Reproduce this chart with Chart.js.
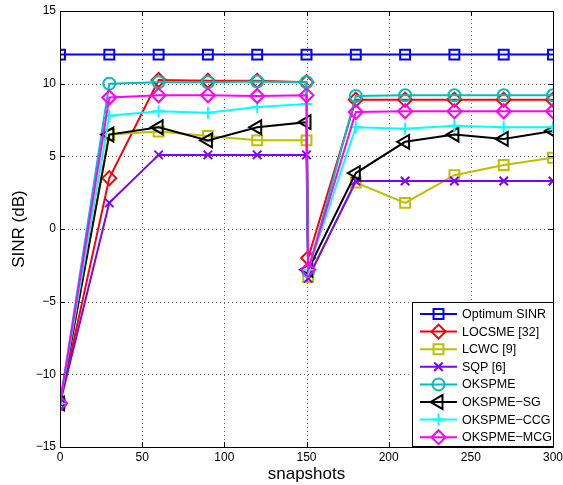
<!DOCTYPE html>
<html>
<head>
<meta charset="utf-8">
<script src="https://cdn.jsdelivr.net/npm/chart.js@4/dist/chart.umd.min.js"></script>
<style>
  html, body { margin: 0; padding: 0; background: #fff; }
  #wrap { width: 563px; height: 485px; }
</style>
</head>
<body>
<div id="wrap"><canvas id="sinrChart" width="563" height="485"></canvas></div>
<script>
const snapshots = [0, 30, 60, 90, 120, 150, 151, 180, 210, 240, 270, 300];

const optimumSinr = [12, 12, 12, 12, 12, 12, null, 12, 12, 12, 12, 12];
const locsme = [-12, 3.5, 10.25, 10.2, 10.2, 10.1, -2.0, 8.9, 8.9, 8.9, 8.9, 8.9];
const lcwc = [-12, 6.5, 6.7, 6.4, 6.1, 6.1, -3.3, 3.2, 1.8, 3.7, 4.4, 4.9];
const sqp = [-12, 1.8, 5.1, 5.1, 5.1, 5.1, -3.4, 3.3, 3.3, 3.3, 3.3, 3.3];
const okspme = [-12, 10.0, 10.1, 10.1, 10.15, 10.1, -2.9, 9.15, 9.2, 9.2, 9.2, 9.2];
const okspmeSg = [-12, 6.5, 7.0, 6.1, 7.0, 7.35, -2.8, 3.85, 6.0, 6.5, 6.2, 6.75];
const okspmeCcg = [-12, 7.8, 8.1, 8.0, 8.4, 8.6, -2.8, 7.0, 6.9, 7.1, 7.0, 7.0];
const okspmeMcg = [-12, 9.05, 9.2, 9.2, 9.15, 9.2, -2.8, 8.05, 8.1, 8.1, 8.1, 8.1];

const xTicks = [0, 50, 100, 150, 200, 250, 300];
const yTicks = [-15, -10, -5, 0, 5, 10, 15];

const seriesNames = ["Optimum SINR", "LOCSME [32]", "LCWC [9]", "SQP [6]", "OKSPME",
  "OKSPME\u2212SG", "OKSPME\u2212CCG", "OKSPME\u2212MCG"];
const seriesValues = [optimumSinr, locsme, lcwc, sqp, okspme, okspmeSg, okspmeCcg, okspmeMcg];
const seriesColors = ["#0000ff", "#ff0000", "#bfbf00", "#7f00ff", "#00bfbf", "#000000", "#00ffff", "#ff00ff"];
const seriesMarkers = [
  { style: "rect", radius: 7, rotation: 0 },
  { style: "rectRot", radius: 7, rotation: 0 },
  { style: "rect", radius: 7, rotation: 0 },
  { style: "crossRot", radius: 6, rotation: 0 },
  { style: "circle", radius: 6, rotation: 0 },
  { style: "triangle", radius: 8, rotation: -90 },
  { style: "cross", radius: 6, rotation: 0 },
  { style: "rectRot", radius: 7, rotation: 0 },
];

const fontFamily = "'Liberation Sans', Arial, Helvetica, sans-serif";

function minusLabel(value) {
  return value < 0 ? "\u2212" + Math.abs(value) : String(value);
}

function buildDatasets() {
  return seriesValues.map((values, i) => ({
    label: seriesNames[i],
    data: snapshots.map((x, j) => ({ x, y: values[j] })),
    borderColor: seriesColors[i],
    borderWidth: 2,
    pointStyle: seriesMarkers[i].style,
    pointRadius: seriesMarkers[i].radius,
    pointRotation: seriesMarkers[i].rotation,
    pointBorderColor: seriesColors[i],
    pointBorderWidth: 2,
    pointBackgroundColor: "rgba(0,0,0,0)",
    spanGaps: true,
    tension: 0,
    order: seriesValues.length - i,
  }));
}

// dotted grid under the data, box + inward ticks on top, like matlab
const axesBox = {
  id: "axesBox",
  beforeDatasetsDraw(chart) {
    const { ctx, chartArea: a, scales } = chart;
    ctx.save();
    ctx.strokeStyle = "rgba(0,0,0,0.6)";
    ctx.lineWidth = 1;
    ctx.setLineDash([1, 3]);
    ctx.beginPath();
    xTicks.slice(1, -1).forEach((t) => {
      const px = Math.round(scales.x.getPixelForValue(t)) + 0.5;
      ctx.moveTo(px, a.top); ctx.lineTo(px, a.bottom);
    });
    yTicks.slice(1, -1).forEach((t) => {
      const py = Math.round(scales.y.getPixelForValue(t)) + 0.5;
      ctx.moveTo(a.left, py); ctx.lineTo(a.right, py);
    });
    ctx.stroke();
    ctx.restore();
  },
  afterDatasetsDraw(chart) {
    const { ctx, chartArea: a, scales } = chart;
    ctx.save();
    ctx.strokeStyle = "#000";
    ctx.lineWidth = 1;
    ctx.strokeRect(a.left + 0.5, a.top + 0.5, a.right - a.left, a.bottom - a.top);
    ctx.beginPath();
    xTicks.forEach((t) => {
      const px = Math.round(scales.x.getPixelForValue(t)) + 0.5;
      ctx.moveTo(px, a.bottom); ctx.lineTo(px, a.bottom - 5);
      ctx.moveTo(px, a.top); ctx.lineTo(px, a.top + 5);
    });
    yTicks.forEach((t) => {
      const py = Math.round(scales.y.getPixelForValue(t)) + 0.5;
      ctx.moveTo(a.left, py); ctx.lineTo(a.left + 5, py);
      ctx.moveTo(a.right, py); ctx.lineTo(a.right - 5, py);
    });
    ctx.stroke();
    ctx.restore();
  },
};

// legend with line + marker samples in the lower right corner
const boxLegend = {
  id: "boxLegend",
  afterDraw(chart) {
    const { ctx } = chart;
    const left = 412, top = 302, right = 554, bottom = 447;
    const rowStart = 314, rowGap = 17.6;
    ctx.save();
    ctx.fillStyle = "#fff";
    ctx.fillRect(left, top, right - left, bottom - top);
    ctx.strokeStyle = "#000";
    ctx.lineWidth = 1;
    ctx.strokeRect(left + 0.5, top + 0.5, right - left - 1, bottom - top - 1);
    ctx.font = "12.5px " + fontFamily;
    ctx.textBaseline = "middle";
    seriesNames.forEach((name, i) => {
      const y = rowStart + i * rowGap;
      ctx.strokeStyle = seriesColors[i];
      ctx.lineWidth = 2;
      ctx.beginPath();
      ctx.moveTo(420, y);
      ctx.lineTo(457, y);
      ctx.stroke();
      ctx.fillStyle = "rgba(0,0,0,0)";
      Chart.helpers.drawPoint(ctx, {
        pointStyle: seriesMarkers[i].style,
        radius: seriesMarkers[i].radius,
        rotation: seriesMarkers[i].rotation,
        borderWidth: 2,
      }, 438.5, y);
      ctx.fillStyle = "#000";
      ctx.fillText(name, 462, y + 0.5);
    });
    ctx.restore();
  },
};

function createSinrChart() {
  const ctx = document.getElementById("sinrChart");
  new Chart(ctx, {
    type: "line",
    data: { datasets: buildDatasets() },
    options: {
      responsive: false,
      animation: false,
      devicePixelRatio: 1,
      layout: { padding: { left: 0, right: 10, top: 11, bottom: 0 } },
      plugins: { legend: { display: false }, tooltip: { enabled: false } },
      scales: {
        x: {
          type: "linear",
          min: 0,
          max: 300,
          afterFit: (scale) => {
            scale.height = 38;
            scale.paddingLeft = 0;
            scale.paddingRight = 0;
          },
          afterBuildTicks: (scale) => { scale.ticks = xTicks.map((v) => ({ value: v })); },
          ticks: {
            color: "#000",
            font: { family: fontFamily, size: 12 },
            padding: 3,
            maxRotation: 0,
            callback: minusLabel,
          },
          grid: { display: false, drawTicks: false },
          border: { display: false },
          title: {
            display: true,
            text: "snapshots",
            color: "#000",
            font: { family: fontFamily, size: 17 },
            padding: { top: 0, bottom: 0 },
          },
        },
        y: {
          min: -15,
          max: 15,
          afterFit: (scale) => {
            scale.width = 60;
            scale.paddingTop = 0;
            scale.paddingBottom = 0;
          },
          afterBuildTicks: (scale) => { scale.ticks = yTicks.map((v) => ({ value: v })); },
          ticks: {
            color: "#000",
            font: { family: fontFamily, size: 12 },
            padding: 4,
            callback: minusLabel,
          },
          grid: { display: false, drawTicks: false },
          border: { display: false },
          title: {
            display: true,
            text: "SINR (dB)",
            color: "#000",
            font: { family: fontFamily, size: 17 },
            padding: { top: 9, bottom: 0 },
          },
        },
      },
    },
    plugins: [axesBox, boxLegend],
  });
}

createSinrChart();
</script>
</body>
</html>
